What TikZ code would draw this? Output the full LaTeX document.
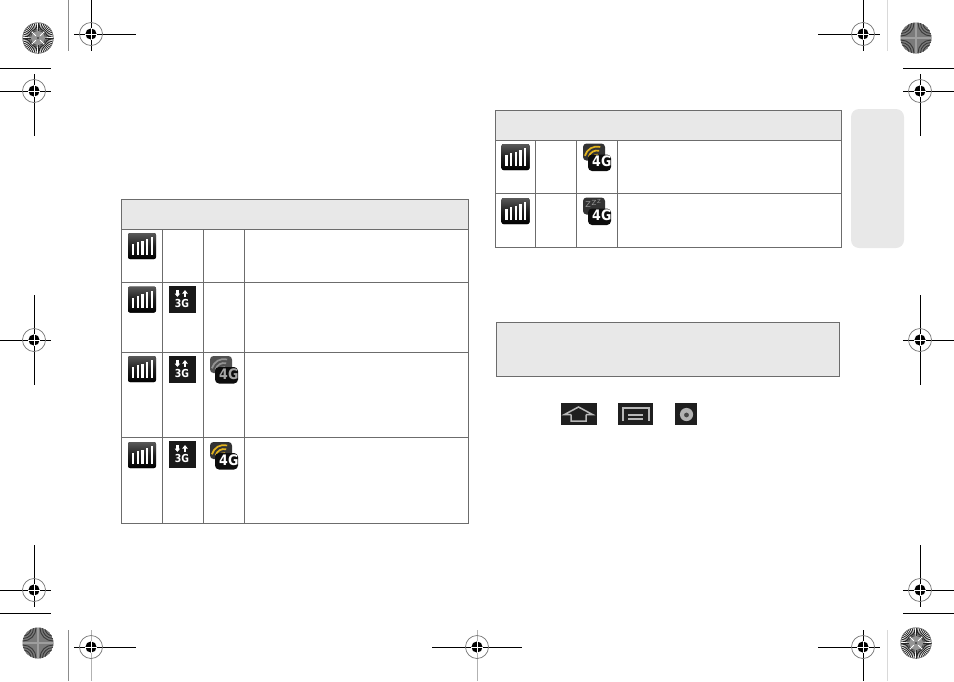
\documentclass[tikz,border=0pt]{standalone}
\usepackage{fontspec}
\usetikzlibrary{calc}
\setmainfont{DejaVu Sans}
\setsansfont{DejaVu Sans}
\definecolor{panelgray}{HTML}{E8E8E8}
\definecolor{rulegray}{HTML}{6C6C6C}
\definecolor{wifiyellow}{HTML}{E3B41E}
\tikzset{
    tableline/.style={draw=rulegray,line width=0.9pt},
    cropline/.style={black,line width=0.9pt},
    softline/.style={color=black!30,line width=0.9pt},
    padtext/.style={inner sep=0pt,font=\bfseries\sffamily},
    iconkey/.style={fill=black!88},
    keyline/.style={color=black!28,line width=1.5pt},
}
% registration mark: x, y, left, right, top, bottom, colour of the vertical
\newcommand{\regmark}[7]{
    \draw[cropline] (#3,#2) -- (#4,#2);
    \draw[cropline,#7] (#1,#5) -- (#1,#6);
    \draw[color=black!55,line width=0.7pt] (#1,#2) circle (11.5);
    \fill[black] (#1,#2) circle (5.6);
    \draw[white,line width=0.5pt] (#1-5.6,#2) -- (#1+5.6,#2) (#1,#2-5.6) -- (#1,#2+5.6);
}
% disc with spokes
\newcommand{\spokedisc}[2]{
    \foreach \a in {0,7.5,...,352.5}
        \draw[black!85,line width=0.85pt] ($(#1,#2)+(\a:5)$) -- ($(#1,#2)+(\a:15.5)$);
    \draw[black!60,line width=0.5pt] (#1,#2) circle (15.3);
    \fill[black!42] (#1,#2) circle (7);
    \foreach \a in {45,135,225,315}
        \draw[white,line width=0.8pt] ($(#1,#2)+(\a:3)$) -- ($(#1,#2)+(\a:9)$);
    \fill[black!75] (#1,#2) circle (1.1);
}
% disc with rings
\newcommand{\ringdisc}[2]{
    \begin{scope}
        \clip (#1,#2) circle (15.5);
        \fill[black!52] (#1,#2) circle (15.5);
        \foreach \sx in {-1,1} \foreach \sy in {-1,1} \foreach \r in {3,5.5,8,10.5,13}
            \draw[black!78,line width=0.9pt] (#1+\sx*15,#2+\sy*15) circle (\r);
        \draw[black!38,line width=1.5pt] (#1-15.5,#2) -- (#1+15.5,#2) (#1,#2-15.5) -- (#1,#2+15.5);
    \end{scope}
}
% signal bars at icon top left
\newcommand{\signalicon}[2]{
    \fill[rounded corners=2pt,top color=black!65,bottom color=black,middle color=black!88] (#1,#2) rectangle ++(28,26);
    \foreach \i in {0,...,4}
        \fill[white] (#1+3.8+\i*4.7,#2+11-\i*1.7) rectangle (#1+6.1+\i*4.7,#2+21.5);
}
% 3G arrows icon
\newcommand{\threegicon}[3]{
    \fill[black!90] (#1,#2) rectangle ++(27,27);
    \fill[white] (#1+7,#2+4) rectangle ++(2.8,4);
    \fill[white] (#1+5.6,#2+7.5) -- ++(5.6,0) -- ++(-2.8,3.4) -- cycle;
    \fill[white] (#1+14.6,#2+7) rectangle ++(2.8,4);
    \fill[white] (#1+13.2,#2+7.5) -- ++(5.6,0) -- ++(-2.8,-3.4) -- cycle;
    \node[padtext,white,font=\bfseries\sffamily\fontsize{11}{11}\selectfont,xscale=0.85] (#3) at (#1+13,#2+17.5) {3G};
}
% wifi bubble with 4G: x, y, bubble colour, arc colour, text colour, name
\newcommand{\fourgicon}[6]{
    \fill[#3,rounded corners=3.5pt] (#1,#2) rectangle ++(22,17);
    \begin{scope}
        \clip[rounded corners=3.5pt] (#1,#2) rectangle ++(22,17);
        \foreach \r in {4.5,8.5,12.5}
            \draw[#4,line width=1.7pt] (#1+14,#2+15.5) ++(195:\r) arc (195:285:\r);
    \end{scope}
    \fill[black!95,rounded corners=4pt] (#1+5,#2+11) rectangle ++(23,16.5);
    \node[padtext,#5,font=\bfseries\sffamily\fontsize{14.5}{14.5}\selectfont,xscale=0.87] (#6) at (#1+18.8,#2+18) {4G};
}
\begin{document}
\begin{tikzpicture}[x=1pt,y=-1pt]
    \useasboundingbox (0,0) rectangle (954,681);
    % corners
    \draw[color=black!45,line width=0.9pt] (68.5,0) -- (68.5,51);
    \draw[color=black!15,line width=0.9pt] (887,0) -- (887,51);
    \draw[color=black!45,line width=0.9pt] (68.5,630) -- (68.5,681);
    \draw[color=black!15,line width=0.9pt] (887,630) -- (887,681);
    \draw[cropline] (0,68) -- (51,68);
    \draw[cropline] (903,68) -- (954,68);
    \draw[cropline] (0,613) -- (51,613);
    \draw[cropline] (903,613) -- (954,613);
    \spokedisc{38}{38}
    \ringdisc{916}{38}
    \ringdisc{38}{643}
    \spokedisc{916}{643}
    \regmark{91}{34}{74}{136}{0}{51}{}
    \regmark{863}{34}{818}{880}{0}{51}{}
    \regmark{34}{91}{0}{51}{74}{136}{}
    \regmark{920}{91}{903}{954}{74}{136}{}
    \regmark{34}{340}{0}{51}{295}{385}{}
    \regmark{920}{340}{903}{954}{295}{385}{}
    \regmark{34}{590}{0}{51}{545}{607}{}
    \regmark{920}{590}{903}{954}{545}{607}{}
    \regmark{91}{647}{74}{136}{630}{681}{softline}
    \regmark{863}{647}{818}{880}{630}{681}{}
    \regmark{477}{647}{432}{522}{630}{681}{softline}
    % side tab
    \fill[panelgray,rounded corners=8pt] (851,109) rectangle (904,248);
    % left table
    \fill[panelgray] (121.5,199.5) rectangle (468.5,229.5);
    \draw[tableline] (121.5,199.5) rectangle (468.5,523.5);
    \draw[tableline] (121.5,229.5) -- (468.5,229.5);
    \draw[tableline] (121.5,282) -- (468.5,282);
    \draw[tableline] (121.5,352) -- (468.5,352);
    \draw[tableline] (121.5,437) -- (468.5,437);
    \draw[tableline] (162.5,229.5) -- (162.5,523.5);
    \draw[tableline] (203.5,229.5) -- (203.5,523.5);
    \draw[tableline] (244.5,229.5) -- (244.5,523.5);
    \signalicon{128}{233}
    \signalicon{128}{286.5}
    \signalicon{128}{356}
    \signalicon{128}{442}
    \threegicon{169}{286}{threeA}
    \threegicon{169}{356}{threeB}
    \threegicon{169}{441}{threeC}
    \fourgicon{210}{356}{black!68}{black!42}{black!35}{fourA}
    \fourgicon{210}{442}{black!80}{wifiyellow}{white}{fourB}
    % right table
    \fill[panelgray] (495.5,110.5) rectangle (841.5,140);
    \draw[tableline] (495.5,110.5) rectangle (841.5,247);
    \draw[tableline] (495.5,140) -- (841.5,140);
    \draw[tableline] (495.5,193.5) -- (841.5,193.5);
    \draw[tableline] (535.5,140) -- (535.5,247);
    \draw[tableline] (576.5,140) -- (576.5,247);
    \draw[tableline] (617.5,140) -- (617.5,247);
    \signalicon{501.5}{144}
    \signalicon{501.5}{198}
    \fourgicon{583}{143.5}{black!80}{wifiyellow}{white}{fourC}
    % sleeping 4G
    \fourgicon{583}{197.5}{black!80}{black!80}{white}{fourD}
    \node[padtext,color=black!40,font=\sffamily\fontsize{8}{8}\selectfont] (zzzA) at (588,205) {Z};
    \node[padtext,color=black!40,font=\sffamily\fontsize{7}{7}\selectfont] (zzzB) at (594,203) {Z};
    \node[padtext,color=black!40,font=\sffamily\fontsize{5.5}{5.5}\selectfont] (zzzC) at (599,201) {Z};
    % note box
    \draw[tableline,fill=panelgray] (496,322.5) rectangle (839,376.5);
    % keys
    \fill[iconkey] (561,403) rectangle (597,425);
    \draw[keyline] (571,414.5) -- (564.5,414.5) -- (578.5,407) -- (592.5,414.5) -- (586,414.5) (571,414.5) -- (571,421) -- (586,421) -- (586,414.5);
    \fill[iconkey] (617.5,403) rectangle (653,425);
    \draw[keyline,line width=1.4pt] (623,421) -- (623,408) -- (649,408) -- (649,421);
    \draw[keyline,line width=1.4pt] (628,415) -- (643,415) (628,419) -- (643,419);
    \fill[iconkey] (675,403) rectangle (697,425);
    \fill[black!30] (686.5,414.5) circle (6.6);
    \fill[black!72] (686.5,415) circle (2.4);
\end{tikzpicture}
\end{document}
